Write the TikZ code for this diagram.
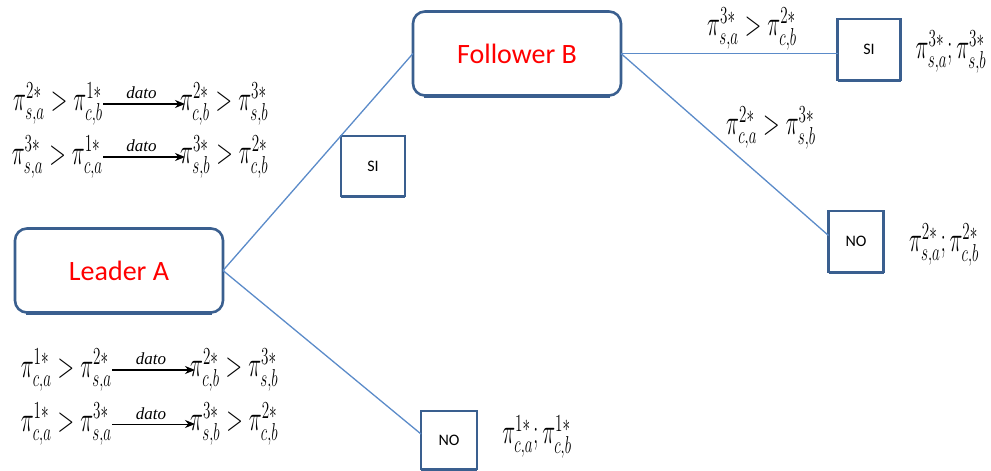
\documentclass[tikz,border=0pt]{standalone}
\usepackage{amsmath}
\usepackage{graphicx}
\usepackage{fontspec}
\setmainfont{Carlito}
\newfontfamily\termsfont{Liberation Serif}
\usetikzlibrary{arrows.meta}

\definecolor{boxblue}{HTML}{3A5F8F}
\definecolor{linkblue}{HTML}{5B8BC9}
\definecolor{playerred}{HTML}{FF0000}

% profit of a player at a given stage
\newcommand{\pv}[2]{\pi^{#1*}_{#2}}
% tall formula setting
\newcommand{\fm}[1]{\scalebox{1.05}[1.7]{$#1$}}

\tikzset{
  player/.style={draw=boxblue, line width=2.6pt, rounded corners=12pt, outer sep=0pt,
    minimum width=208pt, minimum height=84pt, text=playerred,
    font=\fontsize{28}{32}\selectfont},
  choice/.style={draw=boxblue, line width=2.6pt, inner sep=0pt, outer sep=0pt,
    font=\fontsize{16}{18}\selectfont},
  heavy/.style={draw=boxblue, line width=1.6pt},
  link/.style={draw=linkblue, line width=1.3pt},
  expr/.style={inner sep=0pt, font=\fontsize{20}{24}\selectfont},
  given/.style={-{Stealth[length=10pt,width=8pt]}, line width=1.8pt, shorten >=-5pt},
  datolabel/.style={inner sep=1pt, above=3pt, font=\termsfont\itshape\fontsize{17}{19}\selectfont},
}

\begin{document}
\begin{tikzpicture}[x=1pt,y=-1pt]
\useasboundingbox (0,0) rectangle (991,471);

% players
\node[player] (leader) at (119,270.5) {Leader A};
\node[player] (follower) at (517,53.5) {Follower B};

% choices
\node[choice, minimum width=64pt, minimum height=60pt] (siA) at (373,166) {SI};
\node[choice, minimum width=56pt, minimum height=58pt] (noA) at (449,440) {NO};
\node[choice, minimum width=63pt, minimum height=61pt] (siB) at (869,49.5) {SI};
\node[choice, minimum width=55pt, minimum height=61pt] (noB) at (856,241.5) {NO};

% heavier bottom edges of the boxes
\foreach \n in {siA,noA,siB,noB}
  \draw[heavy] ([yshift=-1.6pt]\n.south west) -- ([yshift=-1.6pt]\n.south east);
\foreach \n in {leader,follower}
  \draw[heavy, shorten <=11pt, shorten >=11pt] ([yshift=-1.6pt]\n.south west) -- ([yshift=-1.6pt]\n.south east);

% branches of the game tree
\draw[link] (leader.east) -- (follower.west);
\draw[link] (leader.east) -- ([yshift=6pt]noA.west);
\draw[link] (follower.east) -- (siB.west |- follower.east);
\draw[link] (follower.east) -- ([yshift=6pt]noB.west);

% conditions on the follower's branches
\node[expr] (condSI) at (752,29) {\fm{\pv{3}{s,a} > \pv{2}{c,b}}};
\node[expr] (condNO) at (771,128) {\fm{\pv{2}{c,a} > \pv{3}{s,b}}};

% resulting profits
\node[expr] (paySI) at (951,52) {\fm{\pv{3}{s,a};\pv{3}{s,b}}};
\node[expr] (payNOB) at (944,245) {\fm{\pv{2}{s,a};\pv{2}{c,b}}};
\node[expr] (payNOA) at (537,437) {\fm{\pv{1}{c,a};\pv{1}{c,b}}};

% leader's reasoning when entering
\node[expr, anchor=east] (r1l) at (103,104) {\fm{\pv{2}{s,a} > \pv{1}{c,b}}};
\node[expr, anchor=west] (r1r) at (180,104) {\fm{\pv{2}{c,b} > \pv{3}{s,b}}};
\draw[given] (r1l.east) -- node[datolabel] {dato} (r1r.west);

\node[expr, anchor=east] (r2l) at (103,157) {\fm{\pv{3}{s,a} > \pv{1}{c,a}}};
\node[expr, anchor=west] (r2r) at (180,157) {\fm{\pv{3}{s,b} > \pv{2}{c,b}}};
\draw[given] (r2l.east) -- node[datolabel] {dato} (r2r.west);

% leader's reasoning when staying out
\node[expr, anchor=east] (r3l) at (112,370) {\fm{\pv{1}{c,a} > \pv{2}{s,a}}};
\node[expr, anchor=west] (r3r) at (190,370) {\fm{\pv{2}{c,b} > \pv{3}{s,b}}};
\draw[given] (r3l.east) -- node[datolabel] {dato} (r3r.west);

\node[expr, anchor=east] (r4l) at (112,424) {\fm{\pv{1}{c,a} > \pv{3}{s,a}}};
\node[expr, anchor=west] (r4r) at (190,424) {\fm{\pv{3}{s,b} > \pv{2}{c,b}}};
\draw[given, line width=1pt] (r4l.east) -- node[datolabel] {dato} (r4r.west);
\end{tikzpicture}
\end{document}
